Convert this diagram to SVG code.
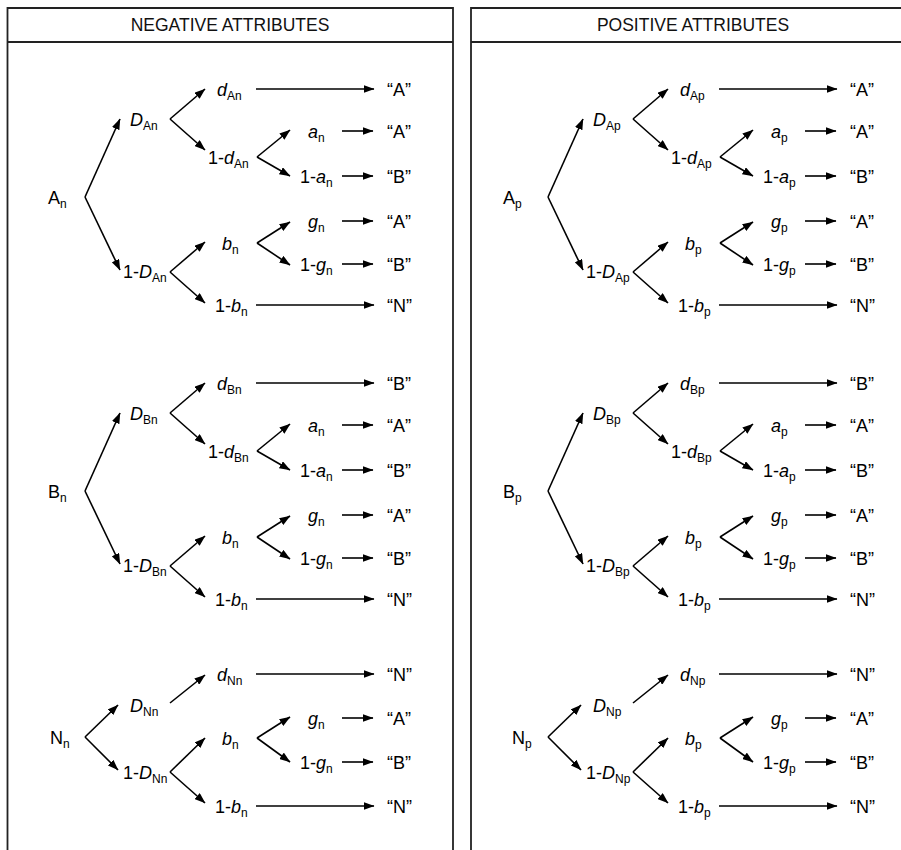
<svg xmlns="http://www.w3.org/2000/svg" width="901" height="850" viewBox="0 0 901 850">
<style>
.t{font-family:"Liberation Sans",Arial,Helvetica,sans-serif;font-size:18px;fill:#000}
.h{font-family:"Liberation Sans",Arial,Helvetica,sans-serif;font-size:17.5px;fill:#111;text-anchor:middle}
.i{font-style:italic}
.s{font-size:12px;font-style:normal}
.c{stroke:#000;stroke-width:1.6;fill:none;marker-end:url(#ah)}
.f{stroke:#222;stroke-width:1.8;fill:none}
</style>
<defs>
<marker id="ah" viewBox="0 0 11 8" refX="10.5" refY="4" markerWidth="11" markerHeight="8" markerUnits="userSpaceOnUse" orient="auto">
<path d="M0,0 L11,4 L0,8 z" fill="#000"/>
</marker>
</defs>
<rect width="901" height="850" fill="#fff"/>
<g id="frames">
<path class="f" d="M7.5,850 V8 H453 V850 M7.5,42 H453"/>
<path class="f" d="M471,850 V8 H905 M471,42 H905"/>
<text class="h" x="230" y="31">NEGATIVE ATTRIBUTES</text>
<text class="h" x="693" y="31">POSITIVE ATTRIBUTES</text>
</g>
<g id="connectors">
<!-- left block A -->
<path class="c" d="M85,197 L120,119"/><path class="c" d="M85,197 L120,270"/>
<path class="c" d="M170,119 L205,89"/><path class="c" d="M170,119 L205,150"/>
<path class="c" d="M257,157 L290,130"/><path class="c" d="M257,157 L290,176"/>
<path class="c" d="M170,272 L205,242"/><path class="c" d="M170,272 L205,303"/>
<path class="c" d="M257,243 L290,222"/><path class="c" d="M257,243 L290,265"/>
<path class="c" d="M256,89 H374"/><path class="c" d="M342,131 H373"/><path class="c" d="M342,176 H373"/>
<path class="c" d="M342,221 H373"/><path class="c" d="M342,264 H373"/><path class="c" d="M256,305 H374"/>
<!-- left block B -->
<path class="c" d="M85,491 L120,413"/><path class="c" d="M85,491 L120,564"/>
<path class="c" d="M170,413 L205,383"/><path class="c" d="M170,413 L205,444"/>
<path class="c" d="M257,451 L290,424"/><path class="c" d="M257,451 L290,470"/>
<path class="c" d="M170,566 L205,536"/><path class="c" d="M170,566 L205,597"/>
<path class="c" d="M257,537 L290,516"/><path class="c" d="M257,537 L290,559"/>
<path class="c" d="M256,383 H374"/><path class="c" d="M342,425 H373"/><path class="c" d="M342,470 H373"/>
<path class="c" d="M342,515 H373"/><path class="c" d="M342,558 H373"/><path class="c" d="M256,599 H374"/>
<!-- left block N -->
<path class="c" d="M85,737 L118,705"/><path class="c" d="M85,737 L118,770"/>
<path class="c" d="M170,703 L205,675"/>
<path class="c" d="M170,772 L205,738"/><path class="c" d="M170,772 L205,803"/>
<path class="c" d="M257,738 L290,717"/><path class="c" d="M257,738 L290,762"/>
<path class="c" d="M256,674 H374"/><path class="c" d="M342,718 H373"/><path class="c" d="M342,762 H373"/><path class="c" d="M256,806 H374"/>
<!-- right block A -->
<path class="c" d="M548,197 L583,119"/><path class="c" d="M548,197 L583,270"/>
<path class="c" d="M633,119 L668,89"/><path class="c" d="M633,119 L668,150"/>
<path class="c" d="M720,157 L753,130"/><path class="c" d="M720,157 L753,176"/>
<path class="c" d="M633,272 L668,242"/><path class="c" d="M633,272 L668,303"/>
<path class="c" d="M720,243 L753,222"/><path class="c" d="M720,243 L753,265"/>
<path class="c" d="M719,89 H837"/><path class="c" d="M805,131 H836"/><path class="c" d="M805,176 H836"/>
<path class="c" d="M805,221 H836"/><path class="c" d="M805,264 H836"/><path class="c" d="M719,305 H837"/>
<!-- right block B -->
<path class="c" d="M548,491 L583,413"/><path class="c" d="M548,491 L583,564"/>
<path class="c" d="M633,413 L668,383"/><path class="c" d="M633,413 L668,444"/>
<path class="c" d="M720,451 L753,424"/><path class="c" d="M720,451 L753,470"/>
<path class="c" d="M633,566 L668,536"/><path class="c" d="M633,566 L668,597"/>
<path class="c" d="M720,537 L753,516"/><path class="c" d="M720,537 L753,559"/>
<path class="c" d="M719,383 H837"/><path class="c" d="M805,425 H836"/><path class="c" d="M805,470 H836"/>
<path class="c" d="M805,515 H836"/><path class="c" d="M805,558 H836"/><path class="c" d="M719,599 H837"/>
<!-- right block N -->
<path class="c" d="M548,737 L581,705"/><path class="c" d="M548,737 L581,770"/>
<path class="c" d="M633,703 L668,675"/>
<path class="c" d="M633,772 L668,738"/><path class="c" d="M633,772 L668,803"/>
<path class="c" d="M720,738 L753,717"/><path class="c" d="M720,738 L753,762"/>
<path class="c" d="M719,674 H837"/><path class="c" d="M805,718 H836"/><path class="c" d="M805,762 H836"/><path class="c" d="M719,806 H837"/>
</g>
<!-- LEFT PANEL NODES -->
<g id="nA-root"><text class="t" x="48" y="204">A<tspan class="s" dy="4">n</tspan></text></g>
<g id="nA-D"><text class="t" x="130" y="126"><tspan class="i">D</tspan><tspan class="s" dy="4">An</tspan></text></g>
<g id="nA-1D"><text class="t" x="123" y="278">1-<tspan class="i">D</tspan><tspan class="s" dy="4">An</tspan></text></g>
<g id="nA-d"><text class="t" x="217" y="96"><tspan class="i">d</tspan><tspan class="s" dy="4">An</tspan></text></g>
<g id="nA-1d"><text class="t" x="208" y="164">1-<tspan class="i">d</tspan><tspan class="s" dy="4">An</tspan></text></g>
<g id="nA-a"><text class="t" x="308" y="138"><tspan class="i">a</tspan><tspan class="s" dy="4">n</tspan></text></g>
<g id="nA-1a"><text class="t" x="300" y="183">1-<tspan class="i">a</tspan><tspan class="s" dy="4">n</tspan></text></g>
<g id="nA-b"><text class="t" x="222" y="250"><tspan class="i">b</tspan><tspan class="s" dy="4">n</tspan></text></g>
<g id="nA-1b"><text class="t" x="215" y="312">1-<tspan class="i">b</tspan><tspan class="s" dy="4">n</tspan></text></g>
<g id="nA-g"><text class="t" x="308" y="228"><tspan class="i">g</tspan><tspan class="s" dy="4">n</tspan></text></g>
<g id="nA-1g"><text class="t" x="300" y="271">1-<tspan class="i">g</tspan><tspan class="s" dy="4">n</tspan></text></g>
<g id="nA-o1"><text class="t" x="387" y="96">“A”</text></g>
<g id="nA-o2"><text class="t" x="387" y="138">“A”</text></g>
<g id="nA-o3"><text class="t" x="387" y="183">“B”</text></g>
<g id="nA-o4"><text class="t" x="387" y="228">“A”</text></g>
<g id="nA-o5"><text class="t" x="387" y="271">“B”</text></g>
<g id="nA-o6"><text class="t" x="387" y="312">“N”</text></g>

<g id="nB-root"><text class="t" x="48" y="498">B<tspan class="s" dy="4">n</tspan></text></g>
<g id="nB-D"><text class="t" x="130" y="420"><tspan class="i">D</tspan><tspan class="s" dy="4">Bn</tspan></text></g>
<g id="nB-1D"><text class="t" x="123" y="572">1-<tspan class="i">D</tspan><tspan class="s" dy="4">Bn</tspan></text></g>
<g id="nB-d"><text class="t" x="217" y="390"><tspan class="i">d</tspan><tspan class="s" dy="4">Bn</tspan></text></g>
<g id="nB-1d"><text class="t" x="208" y="458">1-<tspan class="i">d</tspan><tspan class="s" dy="4">Bn</tspan></text></g>
<g id="nB-a"><text class="t" x="308" y="432"><tspan class="i">a</tspan><tspan class="s" dy="4">n</tspan></text></g>
<g id="nB-1a"><text class="t" x="300" y="477">1-<tspan class="i">a</tspan><tspan class="s" dy="4">n</tspan></text></g>
<g id="nB-b"><text class="t" x="222" y="544"><tspan class="i">b</tspan><tspan class="s" dy="4">n</tspan></text></g>
<g id="nB-1b"><text class="t" x="215" y="606">1-<tspan class="i">b</tspan><tspan class="s" dy="4">n</tspan></text></g>
<g id="nB-g"><text class="t" x="308" y="522"><tspan class="i">g</tspan><tspan class="s" dy="4">n</tspan></text></g>
<g id="nB-1g"><text class="t" x="300" y="565">1-<tspan class="i">g</tspan><tspan class="s" dy="4">n</tspan></text></g>
<g id="nB-o1"><text class="t" x="387" y="390">“B”</text></g>
<g id="nB-o2"><text class="t" x="387" y="432">“A”</text></g>
<g id="nB-o3"><text class="t" x="387" y="477">“B”</text></g>
<g id="nB-o4"><text class="t" x="387" y="522">“A”</text></g>
<g id="nB-o5"><text class="t" x="387" y="565">“B”</text></g>
<g id="nB-o6"><text class="t" x="387" y="606">“N”</text></g>

<g id="nN-root"><text class="t" x="50" y="744">N<tspan class="s" dy="4">n</tspan></text></g>
<g id="nN-D"><text class="t" x="130" y="712"><tspan class="i">D</tspan><tspan class="s" dy="4">Nn</tspan></text></g>
<g id="nN-1D"><text class="t" x="123" y="779">1-<tspan class="i">D</tspan><tspan class="s" dy="4">Nn</tspan></text></g>
<g id="nN-d"><text class="t" x="217" y="681"><tspan class="i">d</tspan><tspan class="s" dy="4">Nn</tspan></text></g>
<g id="nN-b"><text class="t" x="222" y="745"><tspan class="i">b</tspan><tspan class="s" dy="4">n</tspan></text></g>
<g id="nN-1b"><text class="t" x="215" y="813">1-<tspan class="i">b</tspan><tspan class="s" dy="4">n</tspan></text></g>
<g id="nN-g"><text class="t" x="308" y="725"><tspan class="i">g</tspan><tspan class="s" dy="4">n</tspan></text></g>
<g id="nN-1g"><text class="t" x="300" y="769">1-<tspan class="i">g</tspan><tspan class="s" dy="4">n</tspan></text></g>
<g id="nN-o1"><text class="t" x="387" y="681">“N”</text></g>
<g id="nN-o2"><text class="t" x="387" y="725">“A”</text></g>
<g id="nN-o3"><text class="t" x="387" y="769">“B”</text></g>
<g id="nN-o4"><text class="t" x="387" y="813">“N”</text></g>

<!-- RIGHT PANEL NODES -->
<g id="pA-root"><text class="t" x="503" y="204">A<tspan class="s" dy="4">p</tspan></text></g>
<g id="pA-D"><text class="t" x="593" y="126"><tspan class="i">D</tspan><tspan class="s" dy="4">Ap</tspan></text></g>
<g id="pA-1D"><text class="t" x="586" y="278">1-<tspan class="i">D</tspan><tspan class="s" dy="4">Ap</tspan></text></g>
<g id="pA-d"><text class="t" x="680" y="96"><tspan class="i">d</tspan><tspan class="s" dy="4">Ap</tspan></text></g>
<g id="pA-1d"><text class="t" x="671" y="164">1-<tspan class="i">d</tspan><tspan class="s" dy="4">Ap</tspan></text></g>
<g id="pA-a"><text class="t" x="771" y="138"><tspan class="i">a</tspan><tspan class="s" dy="4">p</tspan></text></g>
<g id="pA-1a"><text class="t" x="763" y="183">1-<tspan class="i">a</tspan><tspan class="s" dy="4">p</tspan></text></g>
<g id="pA-b"><text class="t" x="685" y="250"><tspan class="i">b</tspan><tspan class="s" dy="4">p</tspan></text></g>
<g id="pA-1b"><text class="t" x="678" y="312">1-<tspan class="i">b</tspan><tspan class="s" dy="4">p</tspan></text></g>
<g id="pA-g"><text class="t" x="771" y="228"><tspan class="i">g</tspan><tspan class="s" dy="4">p</tspan></text></g>
<g id="pA-1g"><text class="t" x="763" y="271">1-<tspan class="i">g</tspan><tspan class="s" dy="4">p</tspan></text></g>
<g id="pA-o1"><text class="t" x="850" y="96">“A”</text></g>
<g id="pA-o2"><text class="t" x="850" y="138">“A”</text></g>
<g id="pA-o3"><text class="t" x="850" y="183">“B”</text></g>
<g id="pA-o4"><text class="t" x="850" y="228">“A”</text></g>
<g id="pA-o5"><text class="t" x="850" y="271">“B”</text></g>
<g id="pA-o6"><text class="t" x="850" y="312">“N”</text></g>

<g id="pB-root"><text class="t" x="503" y="498">B<tspan class="s" dy="4">p</tspan></text></g>
<g id="pB-D"><text class="t" x="593" y="420"><tspan class="i">D</tspan><tspan class="s" dy="4">Bp</tspan></text></g>
<g id="pB-1D"><text class="t" x="586" y="572">1-<tspan class="i">D</tspan><tspan class="s" dy="4">Bp</tspan></text></g>
<g id="pB-d"><text class="t" x="680" y="390"><tspan class="i">d</tspan><tspan class="s" dy="4">Bp</tspan></text></g>
<g id="pB-1d"><text class="t" x="671" y="458">1-<tspan class="i">d</tspan><tspan class="s" dy="4">Bp</tspan></text></g>
<g id="pB-a"><text class="t" x="771" y="432"><tspan class="i">a</tspan><tspan class="s" dy="4">p</tspan></text></g>
<g id="pB-1a"><text class="t" x="763" y="477">1-<tspan class="i">a</tspan><tspan class="s" dy="4">p</tspan></text></g>
<g id="pB-b"><text class="t" x="685" y="544"><tspan class="i">b</tspan><tspan class="s" dy="4">p</tspan></text></g>
<g id="pB-1b"><text class="t" x="678" y="606">1-<tspan class="i">b</tspan><tspan class="s" dy="4">p</tspan></text></g>
<g id="pB-g"><text class="t" x="771" y="522"><tspan class="i">g</tspan><tspan class="s" dy="4">p</tspan></text></g>
<g id="pB-1g"><text class="t" x="763" y="565">1-<tspan class="i">g</tspan><tspan class="s" dy="4">p</tspan></text></g>
<g id="pB-o1"><text class="t" x="850" y="390">“B”</text></g>
<g id="pB-o2"><text class="t" x="850" y="432">“A”</text></g>
<g id="pB-o3"><text class="t" x="850" y="477">“B”</text></g>
<g id="pB-o4"><text class="t" x="850" y="522">“A”</text></g>
<g id="pB-o5"><text class="t" x="850" y="565">“B”</text></g>
<g id="pB-o6"><text class="t" x="850" y="606">“N”</text></g>

<g id="pN-root"><text class="t" x="512" y="744">N<tspan class="s" dy="4">p</tspan></text></g>
<g id="pN-D"><text class="t" x="593" y="712"><tspan class="i">D</tspan><tspan class="s" dy="4">Np</tspan></text></g>
<g id="pN-1D"><text class="t" x="586" y="779">1-<tspan class="i">D</tspan><tspan class="s" dy="4">Np</tspan></text></g>
<g id="pN-d"><text class="t" x="680" y="681"><tspan class="i">d</tspan><tspan class="s" dy="4">Np</tspan></text></g>
<g id="pN-b"><text class="t" x="685" y="745"><tspan class="i">b</tspan><tspan class="s" dy="4">p</tspan></text></g>
<g id="pN-1b"><text class="t" x="678" y="813">1-<tspan class="i">b</tspan><tspan class="s" dy="4">p</tspan></text></g>
<g id="pN-g"><text class="t" x="771" y="725"><tspan class="i">g</tspan><tspan class="s" dy="4">p</tspan></text></g>
<g id="pN-1g"><text class="t" x="763" y="769">1-<tspan class="i">g</tspan><tspan class="s" dy="4">p</tspan></text></g>
<g id="pN-o1"><text class="t" x="850" y="681">“N”</text></g>
<g id="pN-o2"><text class="t" x="850" y="725">“A”</text></g>
<g id="pN-o3"><text class="t" x="850" y="769">“B”</text></g>
<g id="pN-o4"><text class="t" x="850" y="813">“N”</text></g>
</svg>
